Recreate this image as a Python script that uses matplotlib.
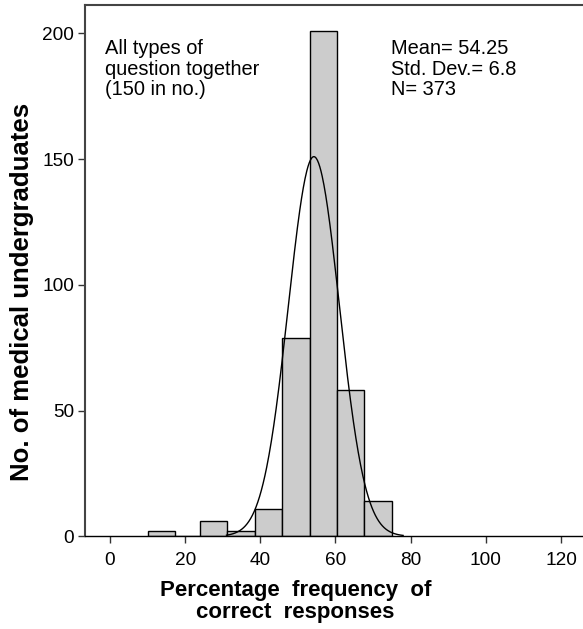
import numpy as np
import matplotlib
matplotlib.use("Agg")
import matplotlib.pyplot as plt

plt.rcParams['font.family'] = ['Liberation Sans', 'DejaVu Sans']

# histogram data
bin_left = [10.0, 17.3, 23.95, 31.25, 38.5, 45.8, 53.1, 60.4, 67.7]
counts = [2, 0, 6, 2, 11, 79, 201, 58, 14]
bin_width = 7.3

mean = 54.25
sd = 6.8
n_total = 373
curve_scale = 6.9  # width used for the fitted curve height

xticks = [0, 20, 40, 60, 80, 100, 120]
yticks = [0, 50, 100, 150, 200]

fig = plt.figure(figsize=(5.83, 6.29), dpi=100)
ax = fig.add_axes([85 / 583, 0.1474, (598.5 - 85) / 583, 0.992 - 0.1474])

ax.bar(bin_left, counts, width=bin_width, align='edge', color='#cccccc',
       edgecolor='black', linewidth=1.0, zorder=2)

xs = np.linspace(31.0, 78.0, 300)
ys = n_total * curve_scale / (sd * np.sqrt(2 * np.pi)) * np.exp(-0.5 * ((xs - mean) / sd) ** 2)
ax.plot(xs, ys, color='black', linewidth=1.0, zorder=3)

ax.set_xlim(-6.65, (598.5 - 110) / 3.758)
ax.set_ylim(0, 211.3)
ax.set_xticks(xticks)
ax.set_yticks(yticks)
ax.tick_params(axis='both', direction='out', length=5, width=1, labelsize=13.7,
               color='#333333')
ax.tick_params(axis='x', pad=6)
ax.tick_params(axis='y', pad=3)

for side in ['left', 'top', 'bottom']:
    ax.spines[side].set_color('#444444')
    ax.spines[side].set_linewidth(1.5)
ax.spines['bottom'].set_color('black')
ax.spines['bottom'].set_linewidth(1.0)
ax.spines['right'].set_visible(False)

ax.text(0.039, 0.936, "All types of\nquestion together\n(150 in no.)",
        transform=ax.transAxes, fontsize=14.4, va='top', ha='left', linespacing=1.1)
ax.text(0.595, 0.936, "Mean= 54.25\nStd. Dev.= 6.8\nN= 373",
        transform=ax.transAxes, fontsize=14.4, va='top', ha='left', linespacing=1.1)

fig.text(0.507, 0.044, "Percentage  frequency  of\ncorrect  responses", ha='center',
         va='center', fontsize=16, fontweight='bold', linespacing=1.1)
fig.text(0.038, 0.536, "No. of medical undergraduates", rotation=90, ha='center',
         va='center', fontsize=18.5, fontweight='bold')

fig.savefig("out.png", dpi=100)
